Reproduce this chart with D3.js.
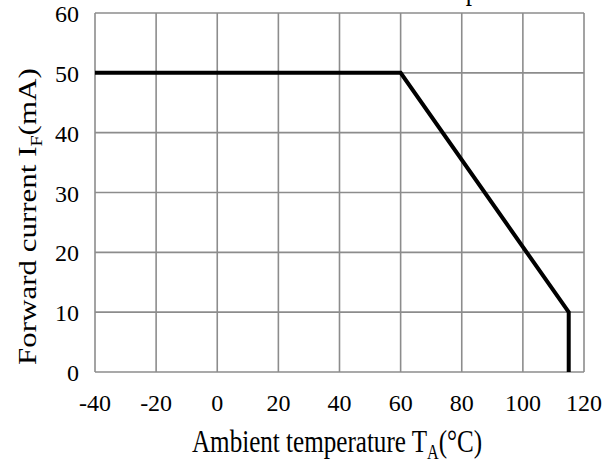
<!DOCTYPE html>
<html>
<head>
<meta charset="utf-8">
<script src="https://cdn.jsdelivr.net/npm/d3@7"></script>
<style>
  body { margin: 0; background: #fff; }
  svg { display: block; }
  text { font-family: "Liberation Serif", "Times New Roman", serif; fill: #000; }
</style>
</head>
<body>
<svg id="chart"></svg>
<script>
// data
var temps = [-40, 60, 115, 115];
var currents = [50, 50, 10, 0];
var xTicks = [-40, -20, 0, 20, 40, 60, 80, 100, 120];
var yTicks = [0, 10, 20, 30, 40, 50, 60];

var width = 603, height = 462;
var margin = {top: 13, right: 19, bottom: 90, left: 95};

var svg = d3.select("#chart")
    .attr("width", width)
    .attr("height", height);

var x = d3.scaleLinear().domain([-40, 120]).range([margin.left, width - margin.right]);
var y = d3.scaleLinear().domain([0, 60]).range([height - margin.bottom, margin.top]);

// grid
svg.append("g").selectAll("line")
    .data(xTicks)
    .enter().append("line")
    .attr("x1", function(d){ return x(d); })
    .attr("x2", function(d){ return x(d); })
    .attr("y1", y(0))
    .attr("y2", y(60))
    .attr("stroke", "#8c8c8c")
    .attr("stroke-width", 1.6);

svg.append("g").selectAll("line")
    .data(yTicks)
    .enter().append("line")
    .attr("x1", x(-40))
    .attr("x2", x(120))
    .attr("y1", function(d){ return y(d); })
    .attr("y2", function(d){ return y(d); })
    .attr("stroke", "#8c8c8c")
    .attr("stroke-width", 1.6);

// tick labels
svg.append("g").selectAll("text")
    .data(xTicks)
    .enter().append("text")
    .attr("x", function(d){ return x(d); })
    .attr("y", y(0) + 39)
    .attr("text-anchor", "middle")
    .style("font-size", "24px")
    .text(function(d){ return d; });

svg.append("g").selectAll("text")
    .data(yTicks)
    .enter().append("text")
    .attr("x", x(-40) - 16)
    .attr("y", function(d){ return y(d) + 9; })
    .attr("text-anchor", "end")
    .style("font-size", "24px")
    .text(function(d){ return d; });

// curve
var line = d3.line()
    .x(function(d, i){ return x(temps[i]); })
    .y(function(d, i){ return y(currents[i]); });

svg.append("path")
    .datum(temps)
    .attr("d", line)
    .attr("fill", "none")
    .attr("stroke", "#000")
    .attr("stroke-width", 4)
    .attr("stroke-linejoin", "miter");

// axis titles (the source picture is a little squeezed sideways)
var xt = svg.append("text")
    .attr("transform", "translate(192,452) scale(0.81,1)")
    .style("font-size", "31px");
xt.append("tspan").text("Ambient temperature T");
xt.append("tspan").attr("dy", 7).style("font-size", "20px").text("A");
xt.append("tspan").attr("dy", -7).text("(\u00B0C)");

var yt = svg.append("text")
    .attr("transform", "translate(36,365) rotate(-90) scale(1,0.81)")
    .style("font-size", "31px");
yt.append("tspan").text("Forward current I");
yt.append("tspan").attr("dy", 7).style("font-size", "20px").text("F");
yt.append("tspan").attr("dy", -7).text("(mA)");

// title, mostly above the top edge of the picture
svg.append("text")
    .attr("transform", "translate(340,-1) scale(0.81,1)")
    .attr("text-anchor", "middle")
    .style("font-size", "31px")
    .text("Forward current vs. Ambient temperature");
</script>
</body>
</html>
